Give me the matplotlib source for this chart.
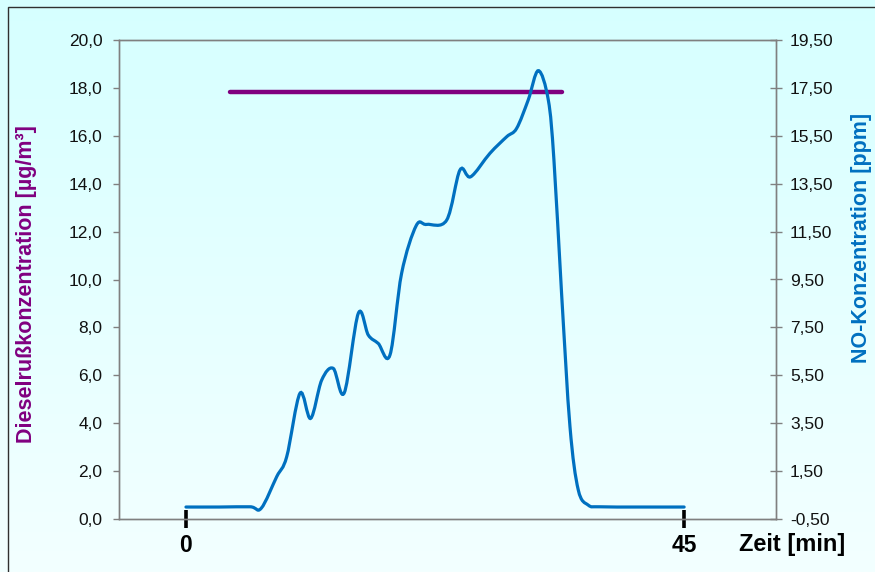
import numpy as np
import matplotlib
matplotlib.use('Agg')
import matplotlib.pyplot as plt
from matplotlib.path import Path
from matplotlib.patches import PathPatch, Rectangle
from matplotlib.colors import LinearSegmentedColormap
from matplotlib.ticker import FuncFormatter

plt.rcParams['font.family'] = ['Liberation Sans', 'DejaVu Sans']

# Dieselruß (linke Achse)
soot_time = [4, 34]
soot_conc = [17.83, 17.83]

# NO-Konzentration (rechte Achse)
no_time = [0, 3, 5.8, 6.8, 8.2, 9.1, 10.3, 11.26, 12.26, 13.3, 14.3, 15.57,
           16.47, 17.37, 18.43, 19.48, 20.8, 21.74, 23.55, 24.75, 25.72,
           27.46, 28.97, 29.87, 30.92, 31.83, 32.73, 33.24, 33.93, 34.69,
           35.44, 36.34, 37.4, 41, 45]
no_ppm = [0.0, 0.0, 0.01, -0.05, 1.27, 2.1, 4.75, 3.7, 5.3, 5.79, 4.77, 8.09,
          7.18, 6.83, 6.35, 9.76, 11.75, 11.8, 11.98, 14.07, 13.79,
          14.77, 15.46, 15.81, 17.0, 18.22, 17.0, 14.49, 8.92, 3.35,
          0.71, 0.08, 0.01, 0.0, 0.0]

left_ticks = [0, 2, 4, 6, 8, 10, 12, 14, 16, 18, 20]
right_ticks = [-0.5, 1.5, 3.5, 5.5, 7.5, 9.5, 11.5, 13.5, 15.5, 17.5, 19.5]
x_ticks = [0, 45]

purple = '#800080'
blue = '#0070C0'
spine_gray = '#808080'


def smooth_path(xs, ys):
    # Excel-artige Glättung: Catmull-Rom als kubische Bezierkurven
    pts = np.column_stack([xs, ys])
    verts = [pts[0]]
    codes = [Path.MOVETO]
    n = len(pts)
    for i in range(n - 1):
        p0 = pts[max(i - 1, 0)]
        p1 = pts[i]
        p2 = pts[i + 1]
        p3 = pts[min(i + 2, n - 1)]
        c1 = p1 + (p2 - p0) / 6.0
        c2 = p2 - (p3 - p1) / 6.0
        verts += [c1, c2, p2]
        codes += [Path.CURVE4] * 3
    return Path(verts, codes)


fig = plt.figure(figsize=(8.75, 5.72), dpi=100)

# Hintergrund mit Verlauf
bg = fig.add_axes([0, 0, 1, 1], zorder=-10)
cmap = LinearSegmentedColormap.from_list('bg', ['#d6ffff', '#f3ffff'])
bg.imshow(np.linspace(0, 1, 256).reshape(-1, 1), aspect='auto', cmap=cmap,
          extent=[0, 1, 0, 1], origin='upper')
bg.add_patch(Rectangle((8 / 875, -0.1), 1.2, 1 - 7 / 572 + 0.1,
                       fill=False, edgecolor='#303030', linewidth=1.0))
bg.set_xlim(0, 1)
bg.set_ylim(0, 1)
bg.axis('off')

ax = fig.add_axes([119 / 875, 53 / 572, 657 / 875, 479 / 572])
ax.patch.set_alpha(0)
ax.plot(soot_time, soot_conc, color=purple, linewidth=3.2, solid_capstyle='round')
ax.set_xlim(-6.05, 53.3)
ax.set_ylim(0, 20)
ax.set_yticks(left_ticks)
ax.yaxis.set_major_formatter(FuncFormatter(lambda v, p: f'{v:.1f}'.replace('.', ',')))
ax.tick_params(axis='y', direction='out', length=4, width=1, color=spine_gray,
               labelsize=12.5, labelcolor='#111111', pad=8)
ax.set_xticks(x_ticks)
ax.set_xticklabels(['0', '45'], fontweight='bold')
ax.tick_params(axis='x', direction='inout', length=13, width=2.6, color='black',
               labelsize=16.5, pad=4)
for s in ax.spines.values():
    s.set_color(spine_gray)
    s.set_linewidth(1.0)

ax2 = ax.twinx()
ax2.set_ylim(-0.5, 19.5)
ax2.set_yticks(right_ticks)
ax2.yaxis.set_major_formatter(FuncFormatter(lambda v, p: f'{v:.2f}'.replace('.', ',')))
ax2.tick_params(axis='y', direction='inout', length=8, width=1, color=spine_gray,
                labelsize=12.5, labelcolor='#111111', pad=6)
for s in ax2.spines.values():
    s.set_color(spine_gray)
    s.set_linewidth(1.0)
ax2.add_patch(PathPatch(smooth_path(no_time, no_ppm), facecolor='none',
                        edgecolor=blue, linewidth=2.3, capstyle='round'))

fig.text(27 / 875, 1 - 284 / 572, 'Dieselrußkonzentration [µg/m³]', rotation=90,
         ha='center', va='center', color=purple, fontsize=15.5, fontweight='bold')
fig.text(861 / 875, 1 - 238 / 572, 'NO-Konzentration [ppm]', rotation=90,
         ha='center', va='center', color=blue, fontsize=15.5, fontweight='bold')
fig.text(739 / 875, 1 - 545 / 572, 'Zeit [min]', ha='left', va='center',
         color='black', fontsize=17, fontweight='bold')

fig.savefig('out.png', dpi=100)
